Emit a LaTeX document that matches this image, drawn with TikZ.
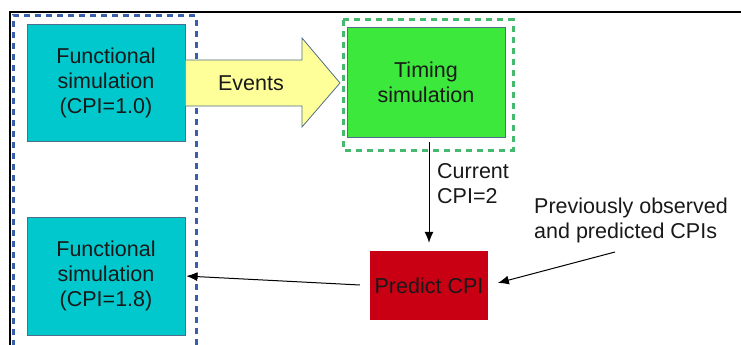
\documentclass[tikz,border=0pt]{standalone}
\usepackage{fontspec}
\setmainfont{Liberation Sans}
\usetikzlibrary{arrows.meta}
\definecolor{cyanbox}{RGB}{0,200,204}
\definecolor{greenbox}{RGB}{61,232,61}
\definecolor{redbox}{RGB}{201,0,20}
\definecolor{yellowarrow}{RGB}{255,255,153}
\definecolor{bluedash}{RGB}{58,95,170}
\definecolor{greendash}{RGB}{70,185,110}
\definecolor{boxedge}{RGB}{80,110,140}
\definecolor{txt}{RGB}{25,25,25}
\begin{document}
\begin{tikzpicture}[x=1pt,y=-1pt,
  every node/.style={font=\fontsize{21.5}{25}\selectfont, text=txt},
  simbox/.style={draw=boxedge, line width=0.6pt, align=center, inner sep=0pt},
  conn/.style={draw=black, line width=1pt, -{Latex[length=11pt,width=9pt]}},
  dashframe/.style={line width=3pt, dash pattern=on 6pt off 5pt}]
\useasboundingbox (0,0) rectangle (741,345);
% frame lines
\draw[line width=2pt] (10,345) -- (10,12) -- (741,12);
% dashed groups
\draw[dashframe, draw=bluedash] (13,346) -- (13,16) -- (196,16) -- (196,346);
\draw[dashframe, draw=greendash] (343,20) rectangle (513,150);
% boxes
\node[simbox, fill=cyanbox, minimum width=158pt, minimum height=117pt] (f1) at (106,82.5)
  {Functional\\simulation\\(CPI=1.0)};
\node[simbox, fill=cyanbox, minimum width=158pt, minimum height=118pt] (f2) at (106,276)
  {Functional\\simulation\\(CPI=1.8)};
\node[simbox, fill=greenbox, minimum width=158pt, minimum height=110pt] (timing) at (426,82)
  {Timing\\simulation};
\node[inner sep=0pt, fill=redbox, minimum width=118pt, minimum height=69pt] (predict) at (429,285.5)
  {Predict CPI};
% events block arrow
\draw[draw=boxedge, line width=0.8pt, fill=yellowarrow]
  (185.5,60) -- (302,60) -- (302,38) -- (340,83) -- (302,127) -- (302,106) -- (185.5,106);
\node (events) at (251,83) {Events};
% labels
\node[anchor=west, align=left, inner sep=0pt] (cur) at (437,184) {Current\\CPI=2};
\node[anchor=west, align=left, inner sep=0pt] (prev) at (534,220) {Previously observed\\and predicted CPIs};
\coordinate (pstart) at (615,252);
% connectors
\draw[conn, shorten <=5pt, shorten >=8pt] (timing.south -| predict.north) -- (predict.north);
\draw[conn, shorten <=10pt, shorten >=1pt] (predict.west) -- (f2.east);
\draw[conn, shorten >=10pt] (pstart) -- (predict.east);
\end{tikzpicture}
\end{document}
